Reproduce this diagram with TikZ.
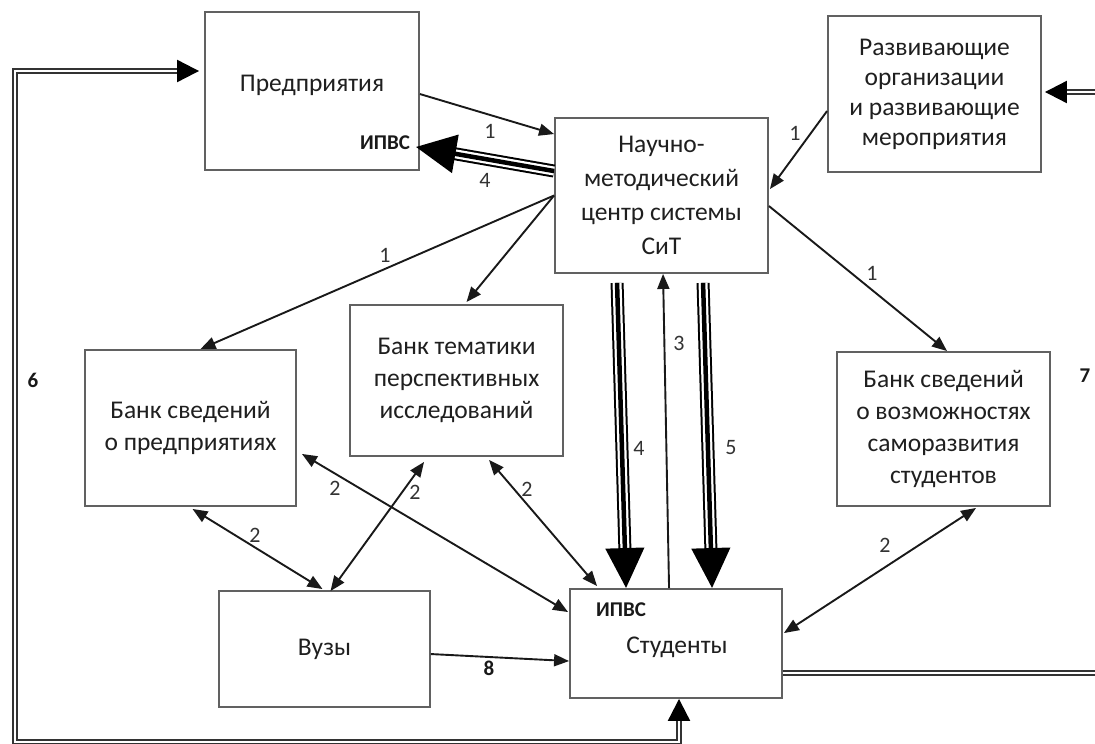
\documentclass[tikz,border=0pt]{standalone}
\usepackage{fontspec}
\setmainfont{Carlito}
\usetikzlibrary{arrows.meta,calc}
\begin{document}
\begin{tikzpicture}[x=1pt,y=-1pt,
  box/.style={draw=black!62, line width=1.9pt, inner sep=0pt, align=center, text=black!88},
  f30/.style={font=\fontsize{25.5}{30}\selectfont},
  f32/.style={font=\fontsize{25.5}{32}\selectfont},
  f34/.style={font=\fontsize{25.5}{34}\selectfont},
  txt/.style={inner sep=0pt, text=black!88, font=\fontsize{25.5}{30}\selectfont},
  lab/.style={inner sep=0pt, text=black!80, font=\fontsize{22}{22}\selectfont},
  blab/.style={inner sep=0pt, text=black!90, font=\fontsize{21}{21}\selectfont\bfseries},
  arr/.style={draw=black!90, line width=1.9pt, -{Triangle[length=15pt,width=12pt]}},
  barr/.style={draw=black!90, line width=1.9pt, {Triangle[length=15pt,width=12pt]}-{Triangle[length=15pt,width=12pt]}},
  triple/.style={draw=black, line width=4.5pt, -{Triangle[length=40pt,width=38pt]},
    preaction={draw=black, -, line width=13pt, shorten >=39pt},
    preaction={draw=white, -, line width=9pt, shorten >=39pt}},
  dblend/.style={draw=white, line width=2.2pt, miter limit=10,
    -{Triangle[length=22pt,width=22pt,color=black]},
    preaction={draw=black!80, -, line width=6.4pt, shorten >=12pt}},
  dblboth/.style={draw=white, line width=2.2pt, miter limit=10,
    {Triangle[length=22pt,width=22pt,color=black]}-{Triangle[length=22pt,width=22pt,color=black]},
    preaction={draw=black!80, -, line width=6.4pt, shorten >=12pt, shorten <=12pt}}
]
\useasboundingbox (0,0) rectangle (1095,744);
\clip (0,0) rectangle (1095,744);
\fill[white] (0,0) rectangle (1095,744);

% boxes
\node[box, minimum width=214pt, minimum height=158pt] (pred) at (312,91) {};
\node[txt] (predt) at (312,85) {Предприятия};
\node[box, f30, minimum width=213pt, minimum height=156pt] (razv) at (934.5,94)
  {Развивающие\\организации\\и развивающие\\мероприятия};
\node[box, f34, minimum width=213pt, minimum height=155pt] (ctr) at (661.5,195.5)
  {Научно-\\методический\\центр системы\\СиТ};
\node[box, f32, minimum width=211pt, minimum height=156pt] (bp) at (190.5,428)
  {Банк сведений\\о предприятиях};
\node[box, f32, minimum width=213pt, minimum height=151pt] (bt) at (456.5,380.5)
  {Банк тематики\\перспективных\\исследований};
\node[box, f32, minimum width=213pt, minimum height=154pt] (bv) at (943.5,429)
  {Банк сведений\\о возможностях\\саморазвития\\студентов};
\node[box, f30, minimum width=211pt, minimum height=116pt] (vuz) at (324.5,649) {Вузы};
\node[box, f30, minimum width=212pt, minimum height=109pt] (stud) at (676,643.5) {};
\node[txt] (studt) at (677,647) {Студенты};

\node[blab] (ipvs1) at (385,143) {ИПВС};
\node[blab] (ipvs2) at (621,610) {ИПВС};

% thin arrows
\draw[arr] ($(pred.north east)+(0,83)$) -- ($(ctr.north west)+(0,17)$);
\draw[arr] ($(razv.north west)+(0,96)$) -- ($(ctr.north east)+(1,72)$);
\draw[arr] (ctr.west) -- ($(bp.north)+(10,0)$);
\draw[arr] (ctr.west) -- ($(bt.north)+(10,-2)$);
\draw[arr] ($(ctr.north east)+(0,89)$) -- ($(bv.north west)+(111,0)$);
\draw[arr] ($(stud.north west)+(100,0)$) -- ($(ctr.south west)+(109,0)$);
\draw[arr] ($(vuz.north east)+(0,64)$) -- ($(stud.north west)+(0,73)$);

\draw[barr] ($(bp.south east)+(5,-53)$) -- ($(stud.north west)+(-1,24)$);
\draw[barr] ($(bp.south)+(2,2)$) -- ($(vuz.north)+(-2,-1)$);
\draw[barr] ($(bt.south west)+(75,5)$) -- ($(vuz.north)+(6,1)$);
\draw[barr] ($(bt.south west)+(140,3)$) -- ($(stud.north west)+(28,-2)$);
\draw[barr] ($(bv.south west)+(140,1)$) -- ($(stud.north east)+(1,45)$);

% triple arrows
\draw[triple] ($(ctr.north west)+(0,54)$) -- ($(pred.south east)+(-4,-24)$);
\draw[triple] ($(ctr.south west)+(63,9)$) -- ($(stud.north west)+(57,0)$);
\draw[triple] ($(ctr.south west)+(149,9)$) -- ($(stud.north west)+(143,0)$);

% double lines 6 and 7
\coordinate (c6a) at (679,742);
\coordinate (c6b) at (15,742);
\coordinate (c6c) at (15,71);
\draw[dblboth] (stud.south -| c6a) -- (c6a) -- (c6b) -- (c6c) -- ($(c6c -| pred.west)+(-5,0)$);
\coordinate (c7a) at (1115,673);
\coordinate (c7b) at (1115,92);
\draw[dblend] (stud.east |- c7a) -- (c7a) -- (c7b) -- ($(razv.east |- c7b)+(3,0)$);

% labels
\node[lab] (l1a) at (490,131) {1};
\node[lab] (l4a) at (485,180) {4};
\node[lab] (l1b) at (795,133) {1};
\node[lab] (l1c) at (385,255) {1};
\node[lab] (l1d) at (872,273) {1};
\node[lab] (l3) at (679,343) {3};
\node[lab] (l4b) at (639,448) {4};
\node[lab] (l5) at (731,448) {5};
\node[lab] (l2a) at (335,488) {2};
\node[lab] (l2b) at (255,535) {2};
\node[lab] (l2c) at (415,492) {2};
\node[lab] (l2d) at (527,489) {2};
\node[lab] (l2e) at (885,545) {2};
\node[blab] (l8) at (489,668) {8};
\node[blab] (l6) at (33,380) {6};
\node[blab] (l7) at (1085,376) {7};
\end{tikzpicture}
\end{document}
